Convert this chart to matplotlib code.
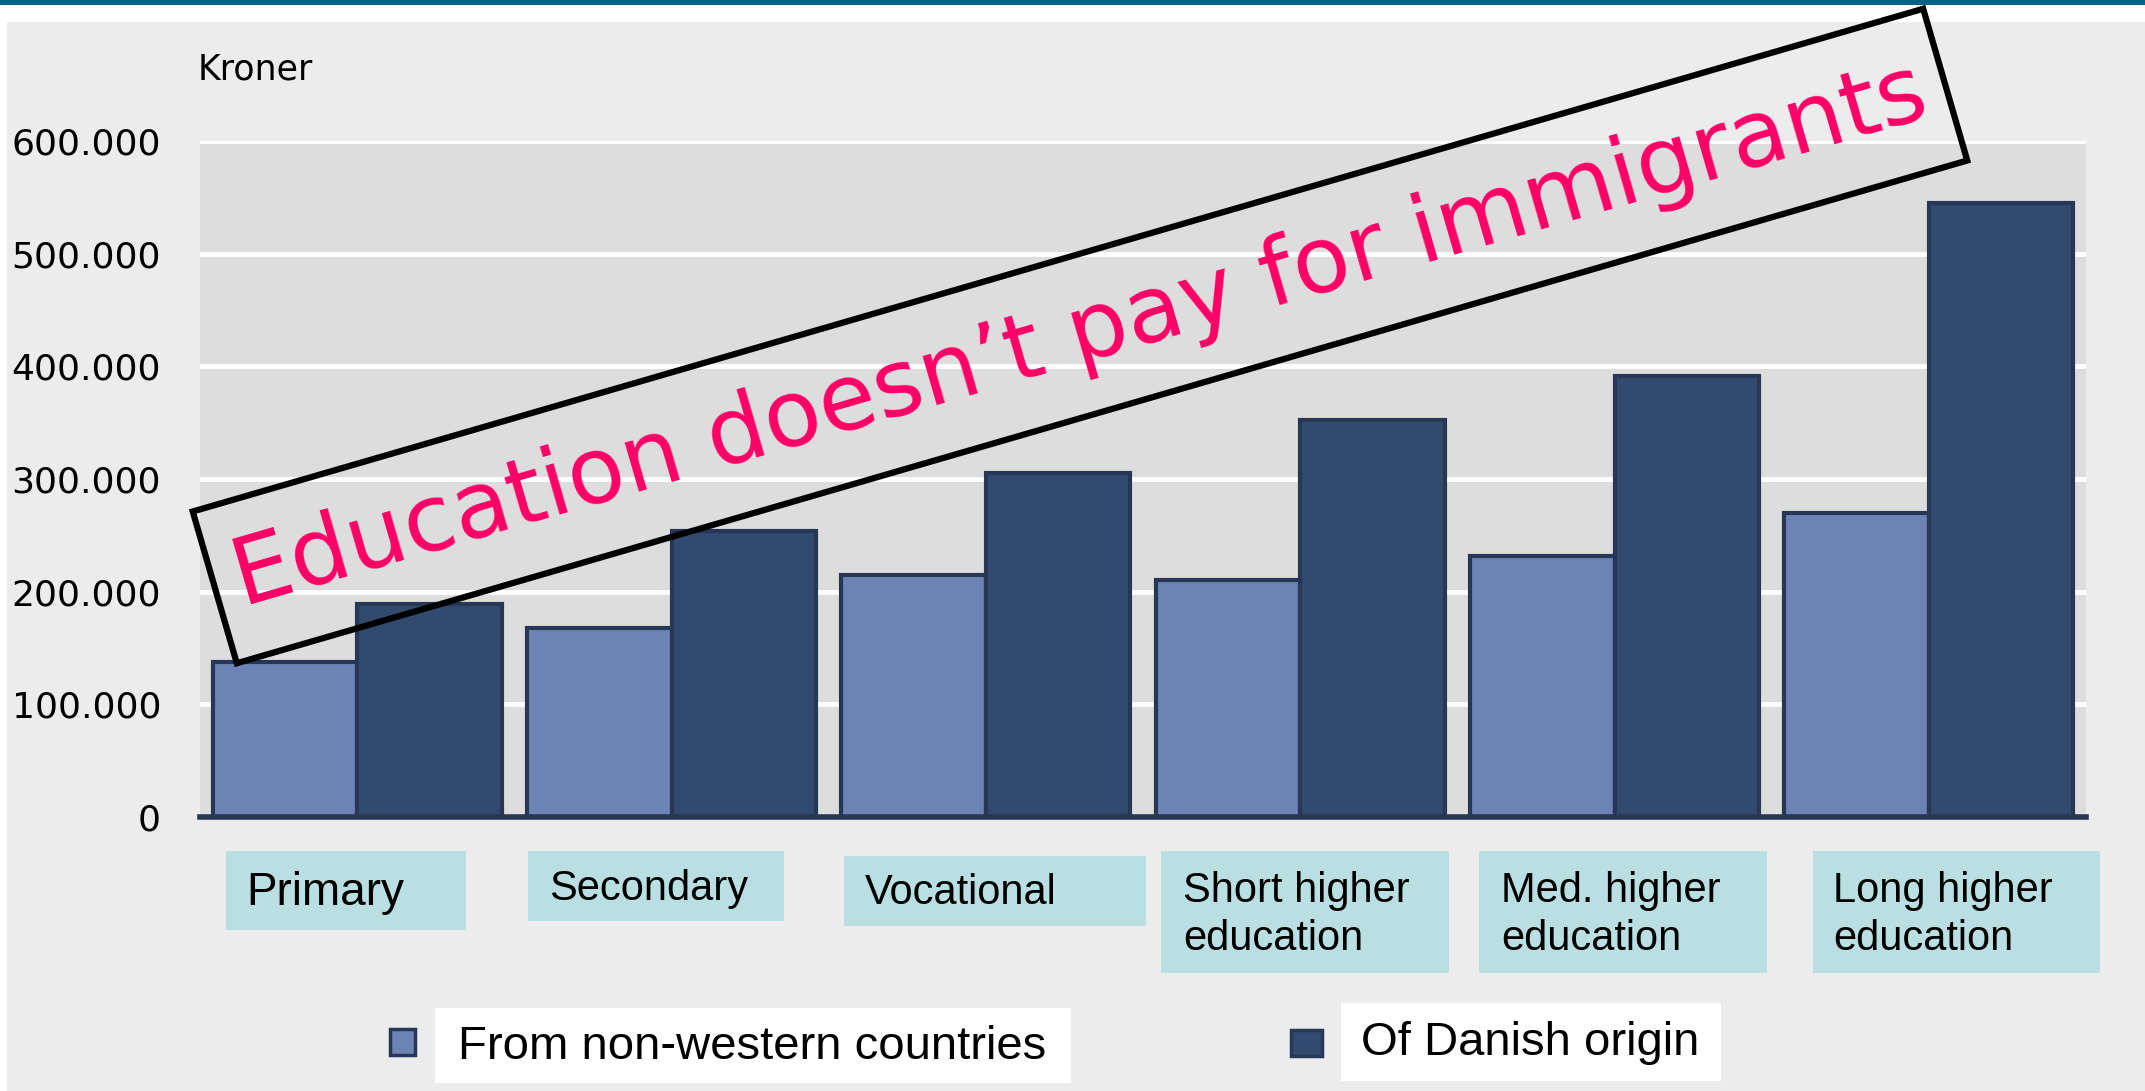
import numpy as np
import matplotlib.pyplot as plt
from matplotlib.patches import Rectangle

W, H = 2145, 1091

categories = ["Primary", "Secondary", "Vocational",
              "Short higher\neducation", "Med. higher\neducation", "Long higher\neducation"]
non_western = [138000, 168000, 215000, 210000, 232000, 270000]
danish = [189000, 254000, 305000, 352000, 391000, 545000]
series_names = ["From non-western countries", "Of Danish origin"]
yticks = [0, 100000, 200000, 300000, 400000, 500000, 600000]

light = '#6c83b4'
dark = '#314a6e'
edge = '#263855'
box_col = '#b9dfe2'

fig = plt.figure(figsize=(W / 100, H / 100), dpi=100)
fig.patch.set_facecolor('#ececec')

# page decoration: white strip + blue band on top, white margin on left
def px_rect(x0, y0, x1, y1, **kw):
    r = Rectangle((x0 / W, 1 - y1 / H), (x1 - x0) / W, (y1 - y0) / H,
                  transform=fig.transFigure, **kw)
    fig.add_artist(r)
    return r

px_rect(0, 0, W, 22, color='white', lw=0)
px_rect(0, 0, 7, H, color='white', lw=0)
px_rect(0, 0, W, 5, color='#00608a', lw=0)

ax = fig.add_axes([200 / W, 1 - 817 / H, 1886 / W, 676 / H])
ax.set_facecolor('#dddddd')

x = np.arange(len(categories))
bw = 0.46
ax.bar(x - bw / 2, non_western, bw, color=light, edgecolor=edge, linewidth=3, zorder=3)
ax.bar(x + bw / 2, danish, bw, color=dark, edgecolor=edge, linewidth=3, zorder=3)

ax.set_xlim(-0.5, len(categories) - 0.5)
ax.set_ylim(0, 600000)
ax.set_yticks(yticks)
ax.set_yticklabels([f"{v:,.0f}".replace(',', '.') for v in yticks])
ax.set_xticks([])
ax.yaxis.grid(True, color='white', lw=3.5)
ax.set_axisbelow(True)
ax.tick_params(axis='y', length=0, pad=28, labelsize=26)
for s in ['top', 'left', 'right']:
    ax.spines[s].set_visible(False)
ax.spines['bottom'].set_color(edge)
ax.spines['bottom'].set_linewidth(4)
ax.spines['bottom'].set_zorder(4)

fig.text(198 / W, 1 - 70 / H, "Kroner", fontsize=25, va='center', ha='left')

# category label boxes (pixel extents) and text anchors
box_px = [(226, 851, 466, 930), (528, 851, 784, 921), (844, 856, 1146, 926),
          (1161, 851, 1449, 973), (1479, 851, 1767, 973), (1813, 851, 2100, 973)]
text_px = [(246, 893), (549, 889), (865, 893), (1183, 915), (1501, 915), (1833, 915)]
label_size = [33, 30, 30, 30, 30, 30]
for lab, b, t, fs in zip(categories, box_px, text_px, label_size):
    px_rect(*b, color=box_col, lw=0)
    fig.text(t[0] / W, 1 - t[1] / H, lab, fontsize=fs, family='Liberation Sans',
             ha='left', va='center', linespacing=1.27)

# legend
leg_marker = [(390, 1029, 415, 1055), (1291, 1030, 1322, 1056)]
leg_box = [(435, 1008, 1071, 1083), (1341, 1003, 1721, 1081)]
leg_text = [(458, 1047), (1361, 1043)]
for name, m, b, t, c in zip(series_names, leg_marker, leg_box, leg_text, [light, dark]):
    px_rect(*m, facecolor=c, edgecolor=edge, lw=2.5)
    px_rect(*b, color='white', lw=0)
    fig.text(t[0] / W, 1 - t[1] / H, name, fontsize=34, family='Liberation Sans',
             ha='left', va='center')

# slanted stamp: rotated frame + text (inch coords keep the angle true)
cx, cy, bw_px, bh_px, ang = 1080, 336, 1802, 158, 16.2
frame = Rectangle(((cx - bw_px / 2) / 100, (H - cy - bh_px / 2) / 100), bw_px / 100, bh_px / 100,
                  angle=ang, rotation_point='center', transform=fig.dpi_scale_trans,
                  fill=False, ec='black', lw=4.5)
fig.add_artist(frame)
fig.text(cx / 100, (H - cy) / 100, "Education doesn\u2019t pay for immigrants",
         transform=fig.dpi_scale_trans, rotation=ang, rotation_mode='anchor',
         ha='center', va='center', fontsize=67, color='#ff0066', family='DejaVu Sans')

fig.savefig('out.png', dpi=100, facecolor=fig.get_facecolor())
